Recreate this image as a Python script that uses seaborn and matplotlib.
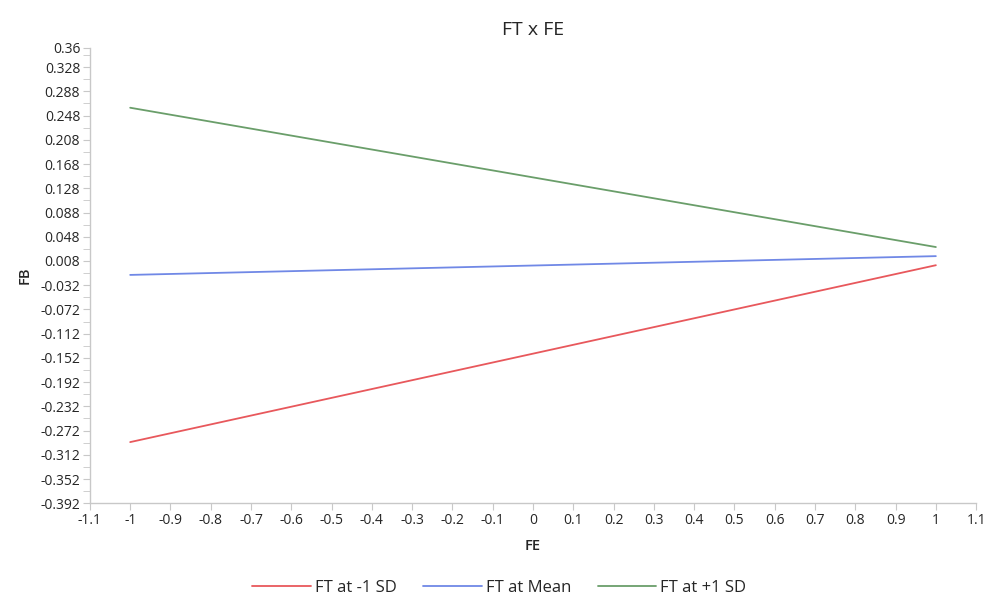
import numpy as np
import pandas as pd
import matplotlib.pyplot as plt
import seaborn as sns

# Data
fe_points = [-1, 1]
ft_low = [-0.291, 0.001]
ft_mean = [-0.015, 0.016]
ft_high = [0.261, 0.031]
series_names = ["FT at -1 SD", "FT at Mean", "FT at +1 SD"]
colors = ["#E8585C", "#7088E6", "#6A9E6A"]

df = pd.DataFrame({
    "FE": fe_points * 3,
    "FB": ft_low + ft_mean + ft_high,
    "series": [s for s in series_names for _ in fe_points],
})

sns.set_style("white")
plt.rcParams['font.family'] = ['Open Sans', 'DejaVu Sans']

fig, ax = plt.subplots(figsize=(9.88, 5.97), dpi=100)
fig.subplots_adjust(left=0.091, right=0.988, top=0.92, bottom=0.157)

sns.lineplot(data=df, x="FE", y="FB", hue="series", palette=colors,
             hue_order=series_names, linewidth=1.3, ax=ax)

ax.set_xlim(-1.1, 1.1)
ax.set_ylim(-0.392, 0.36)
xt = np.round(np.arange(-1.1, 1.1001, 0.1), 1)
ax.set_xticks(xt)
ax.set_xticklabels([f"{v:g}" for v in xt])
yt = list(np.round(np.arange(-0.392, 0.34, 0.04), 3)) + [0.36]
ax.set_yticks(yt)
ax.set_yticklabels([f"{v:g}" for v in yt])
ax.set_yticks(np.round(np.arange(-0.372, 0.36, 0.04), 3), minor=True)

for s in ["top", "right"]:
    ax.spines[s].set_visible(False)
for s in ["left", "bottom"]:
    ax.spines[s].set_color("#C8C8C8")
    ax.spines[s].set_linewidth(1)
ax.tick_params(axis="both", which="major", length=5, color="#C8C8C8",
               labelsize=10, left=True, bottom=True, pad=2)
ax.tick_params(axis="y", which="minor", length=5, color="#C8C8C8", left=True)

ax.set_title("FT x FE", fontsize=14, pad=9)
ax.set_xlabel("FE", fontsize=10.5, fontweight="semibold", labelpad=8)
ax.set_ylabel("FB", fontsize=10.5, fontweight="semibold", labelpad=6)

ax.legend(loc="upper center", bbox_to_anchor=(0.462, -0.135), ncol=3,
          frameon=False, fontsize=12, handlelength=3.5, columnspacing=1.6,
          handletextpad=0.25)

plt.savefig("out.png", dpi=100)
